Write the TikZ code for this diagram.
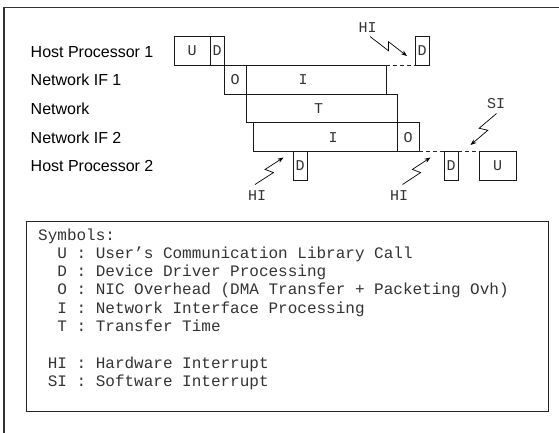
\documentclass[tikz,border=0pt]{standalone}
\usepackage{fontspec}
\setmainfont{Liberation Sans}
\newfontfamily\mono{Liberation Mono}
\usetikzlibrary{calc,arrows.meta}
\begin{document}
\begin{tikzpicture}[x=1pt,y=-1pt,
  box/.style={draw=black!90, line width=0.8pt, inner sep=0pt, outer sep=0pt,
    anchor=north west, minimum height=28.75pt, text=black!80,
    font=\mono\fontsize{15}{15}\selectfont},
  tag/.style={inner sep=0pt, text=black!80, font=\mono\fontsize{15}{15}\selectfont},
  rowlabel/.style={anchor=base west, inner sep=0pt, font=\fontsize{16}{16}\selectfont},
  legline/.style={anchor=base west, inner sep=0pt, text=black!80,
    font=\mono\fontsize{16}{16}\selectfont},
  gap/.style={dashed, dash pattern=on 4pt off 3pt, line width=0.8pt, black!85},
  bolt/.style={-{Stealth[length=6pt,width=4.5pt]}, line width=0.7pt,
    to path={-- ($(\tikztostart)!0.55!(\tikztotarget)!4pt!-90:(\tikztotarget)$)
             -- ($(\tikztostart)!0.45!(\tikztotarget)!4pt!90:(\tikztotarget)$)
             -- (\tikztotarget)}}
]
\useasboundingbox (0,0) rectangle (559,432);

% outer frame (runs off the page to the right and bottom)
\draw[line width=1.3pt, black!80] (4,445) -- (4,7.3) -- (575,7.3);

% row labels
\node[rowlabel] (hp1)  at (30.5,57.7)  {Host Processor 1};
\node[rowlabel] (nif1) at (30.5,85.9)  {Network IF 1};
\node[rowlabel] (net)  at (30.5,114.2) {Network};
\node[rowlabel] (nif2) at (30.5,143.0) {Network IF 2};
\node[rowlabel] (hp2)  at (30.5,171.7) {Host Processor 2};

% timeline boxes
\node[box, minimum width=36pt]  (u1) at (174,36.5)   {U};
\node[box, minimum width=14pt]  (d1) at (210,36.5)   {D};
\node[box, minimum width=14pt]  (d2) at (415,36.5)   {D};
\node[box, minimum width=22pt]  (o1) at (224,65.25)  {O};
\node[box, minimum width=140pt] (i1) at (246,65.25)  {};
\node[box, minimum width=151pt] (t)  at (246,94)     {};
\node[box, minimum width=144pt] (i2) at (253,122.75) {};
\node[box, minimum width=22pt]  (o2) at (397,122.75) {O};
\node[box, minimum width=14pt]  (d3) at (293,151.5)  {D};
\node[box, minimum width=14pt]  (d4) at (444,151.5)  {D};
\node[box, minimum width=37pt]  (u2) at (479,151.5)  {U};

\node[tag] (i1t) at ($(i1.center)+(-13,0)$) {I};
\node[tag] (tt)  at ($(t.center)+(-3,0)$)   {T};
\node[tag] (i2t) at ($(i2.center)+(8,0)$)   {I};

% waiting gaps
\draw[gap] (i1.north east) -- (d2.south west);
\draw[gap] (o2.south east) -- (d4.north west);
\draw[gap] (d4.north east) -- (u2.north west);

% interrupts
\node[tag] (hiA) at (367.5,28)  {HI};
\node[tag] (hiB) at (257,195.5) {HI};
\node[tag] (hiC) at (399,195.5) {HI};
\node[tag] (si)  at (496,104)   {SI};

\coordinate (hiAs) at (370,36.5);  \coordinate (hiAe) at (407,56);
\coordinate (hiBs) at (255,184.5); \coordinate (hiBe) at (283.5,157.5);
\coordinate (hiCs) at (402.5,184.5); \coordinate (hiCe) at (430.5,157.5);
\coordinate (sis)  at (496.5,113.5); \coordinate (sie)  at (470.5,145);

\draw[bolt] (hiAs) to (hiAe);
\draw[bolt] (hiBs) to (hiBe);
\draw[bolt] (hiCs) to (hiCe);
\draw[bolt] (sis) to (sie);

% legend
\node[draw=black!85, line width=1pt, inner sep=0pt, outer sep=0pt, anchor=north west,
      minimum width=522pt, minimum height=190pt] (legend) at (26,221) {};
\node[legline] (sym) at (38,240)    {Symbols:};
\node[legline] (lu)  at (57.2,258.3) {U : User’s Communication Library Call};
\node[legline] (ld)  at (57.2,276.6) {D : Device Driver Processing};
\node[legline] (lo)  at (57.2,294.9) {O : NIC Overhead (DMA Transfer + Packeting Ovh)};
\node[legline] (li)  at (57.2,313.2) {I : Network Interface Processing};
\node[legline] (lt)  at (57.2,331.5) {T : Transfer Time};
\node[legline] (lhi) at (47.6,368.1) {HI : Hardware Interrupt};
\node[legline] (lsi) at (47.6,386.4) {SI : Software Interrupt};
\end{tikzpicture}
\end{document}
